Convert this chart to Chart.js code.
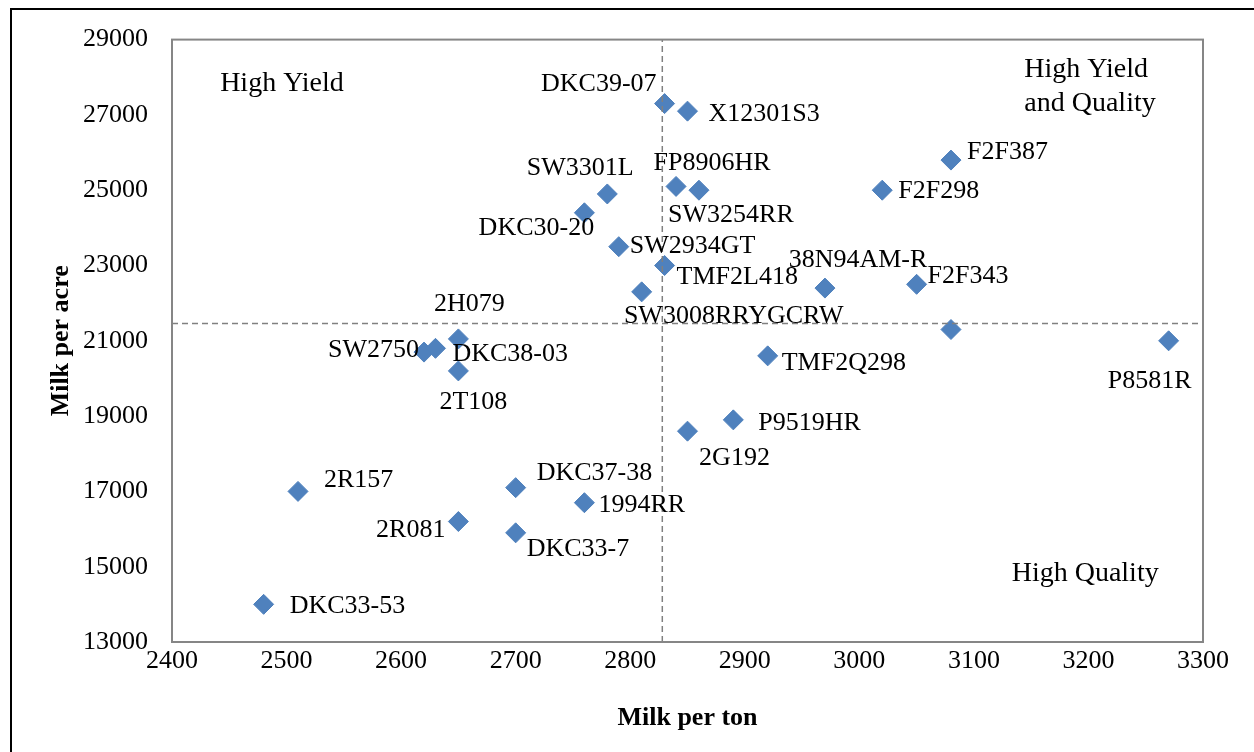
<!DOCTYPE html>
<html>
<head>
<meta charset="utf-8">
<script src="https://cdn.jsdelivr.net/npm/chart.js@4/dist/chart.umd.min.js"></script>
<style>
  html, body { margin: 0; padding: 0; background: #fff; }
  #chart { display: block; }
</style>
</head>
<body>
<canvas id="chart" width="1254" height="752"></canvas>
<script>
// hybrid names, one per point ('' = no label)
const hybrids = ['DKC39-07', 'X12301S3', 'FP8906HR', 'SW3254RR', 'SW3301L', 'DKC30-20', 'SW2934GT',
    'TMF2L418', 'SW3008RRYGCRW', '38N94AM-R', 'F2F343', 'F2F387', 'F2F298', '', 'P8581R',
    'TMF2Q298', 'P9519HR', '2G192', '2H079', 'SW2750', 'DKC38-03', '2T108', '2R157',
    'DKC37-38', '1994RR', '2R081', 'DKC33-7', 'DKC33-53'];
const milkPerTon = [2830, 2850, 2840, 2860, 2780, 2760, 2790, 2830, 2810, 2970, 3050, 3080, 3020, 3080, 3270,
    2920, 2890, 2850, 2650, 2620, 2630, 2650, 2510, 2700, 2760, 2650, 2700, 2480];
const milkPerAcre = [27300, 27100, 25100, 25000, 24900, 24400, 23500, 23000, 22300, 22400, 22500, 25800, 25000, 21300, 21000,
    20600, 18900, 18600, 21050, 20700, 20800, 20200, 17000, 17100, 16700, 16200, 15900, 14000];

// dashed reference lines (average-ish cut points)
const tonCut = 2828;
const acreCut = 21460;

const xTicks = [2400, 2500, 2600, 2700, 2800, 2900, 3000, 3100, 3200, 3300];
const yTicks = [13000, 15000, 17000, 19000, 21000, 23000, 25000, 27000, 29000];

const quadrantText = [['High Yield'], ['High Yield', 'and Quality'], ['High Quality']];
const quadrantAt = [[2496, 27830, 'center'], [3144, 27740, 'left'], [3133, 14810, 'left']];

// label placement next to each point: [align, dx, dy] in px
const labelPlace = [
    ['right', -8, -19], ['left', 21, 3], ['center', 36, -23], ['center', 32, 25], ['center', -27, -26],
    ['center', -48, 15], ['left', 11, -1], ['left', 12, 12], ['center', 92, 24], ['center', 33, -28],
    ['left', 11, -8], ['left', 16, -8], ['left', 16, 1], ['left', 0, 0], ['center', -19, 40],
    ['left', 14, 7], ['left', 25, 3], ['center', 47, 27], ['center', 11, -35], ['right', -5, -2],
    ['left', 17, 6], ['center', 15, 31], ['left', 26, -11], ['left', 21, -14], ['left', 14, 2],
    ['right', -13, 9], ['left', 11, 16], ['left', 26, 2]
];

const serif = '"Liberation Serif", "Times New Roman", serif';

const points = milkPerTon.map((x, i) => ({x: x, y: milkPerAcre[i]}));

const pointLabels = {
    id: 'pointLabels',
    afterDatasetsDraw(chart) {
        const ctx = chart.ctx;
        const meta = chart.getDatasetMeta(2);
        ctx.save();
        ctx.font = '26px ' + serif;
        ctx.fillStyle = '#000';
        ctx.textBaseline = 'middle';
        meta.data.forEach((pt, i) => {
            if (!hybrids[i]) return;
            const p = labelPlace[i];
            ctx.textAlign = p[0];
            ctx.fillText(hybrids[i], pt.x + p[1], pt.y + p[2]);
        });

        // quadrant captions
        const xs = chart.scales.x, ys = chart.scales.y;
        ctx.font = '28px ' + serif;
        quadrantText.forEach((lines, i) => {
            const a = quadrantAt[i];
            ctx.textAlign = a[2];
            const px = xs.getPixelForValue(a[0]);
            const py = ys.getPixelForValue(a[1]);
            const lh = 34;
            lines.forEach((t, j) => {
                ctx.fillText(t, px, py + (j - (lines.length - 1) / 2) * lh);
            });
        });
        ctx.restore();
    }
};

const frames = {
    id: 'frames',
    beforeDraw(chart) {
        const ctx = chart.ctx;
        ctx.save();
        ctx.fillStyle = '#fff';
        ctx.fillRect(0, 0, chart.width, chart.height);
        // outer figure box
        ctx.strokeStyle = '#000';
        ctx.lineWidth = 2;
        ctx.beginPath();
        ctx.moveTo(11, chart.height);
        ctx.lineTo(11, 9);
        ctx.lineTo(chart.width, 9);
        ctx.stroke();
        ctx.restore();
    },
    afterDraw(chart) {
        const a = chart.chartArea;
        const ctx = chart.ctx;
        ctx.save();
        ctx.strokeStyle = '#868686';
        ctx.lineWidth = 2;
        ctx.strokeRect(a.left, a.top, a.right - a.left, a.bottom - a.top);
        ctx.restore();
    }
};

const refLine = {
    type: 'scatter',
    showLine: true,
    borderColor: '#808080',
    borderWidth: 1.5,
    borderDash: [6, 4],
    pointRadius: 0,
    fill: false
};

const data = {
    datasets: [
        Object.assign({}, refLine, {data: [{x: tonCut, y: yTicks[0]}, {x: tonCut, y: yTicks[yTicks.length - 1]}]}),
        Object.assign({}, refLine, {data: [{x: xTicks[0], y: acreCut}, {x: xTicks[xTicks.length - 1], y: acreCut}]}),
        {
            label: 'Hybrids',
            data: points,
            pointStyle: 'rectRot',
            pointRadius: 10,
            pointHoverRadius: 10,
            borderWidth: 1,
            backgroundColor: '#4F81BD',
            borderColor: '#4F81BD'
        }
    ]
};

const options = {
    responsive: false,
    animation: false,
    devicePixelRatio: 1,
    events: [],
    layout: {
        padding: {left: 0, top: 38, right: 51, bottom: 0}
    },
    plugins: {
        legend: {display: false},
        tooltip: {enabled: false}
    },
    scales: {
        x: {
            type: 'linear',
            min: xTicks[0],
            max: xTicks[xTicks.length - 1],
            afterBuildTicks: (s) => { s.ticks = xTicks.map(v => ({value: v})); },
            afterFit: (s) => { s.height = 110; },
            grid: {display: false, drawTicks: false},
            border: {display: false},
            ticks: {
                color: '#000',
                padding: 4,
                maxRotation: 0,
                font: {family: serif, size: 26},
                callback: (v) => String(v)
            },
            title: {
                display: true,
                text: 'Milk per ton',
                color: '#000',
                padding: 18,
                font: {family: serif, size: 26, weight: 'bold'}
            }
        },
        y: {
            type: 'linear',
            min: yTicks[0],
            max: yTicks[yTicks.length - 1],
            afterBuildTicks: (s) => { s.ticks = yTicks.map(v => ({value: v})); },
            afterFit: (s) => { s.width = 172; },
            grid: {display: false, drawTicks: false},
            border: {display: false},
            ticks: {
                color: '#000',
                padding: 24,
                font: {family: serif, size: 26},
                callback: (v) => String(v)
            },
            title: {
                display: true,
                text: 'Milk per acre',
                color: '#000',
                padding: 46,
                font: {family: serif, size: 26, weight: 'bold'}
            }
        }
    }
};

new Chart(document.getElementById('chart').getContext('2d'), {
    type: 'scatter',
    data: data,
    options: options,
    plugins: [frames, pointLabels]
});
</script>
</body>
</html>
